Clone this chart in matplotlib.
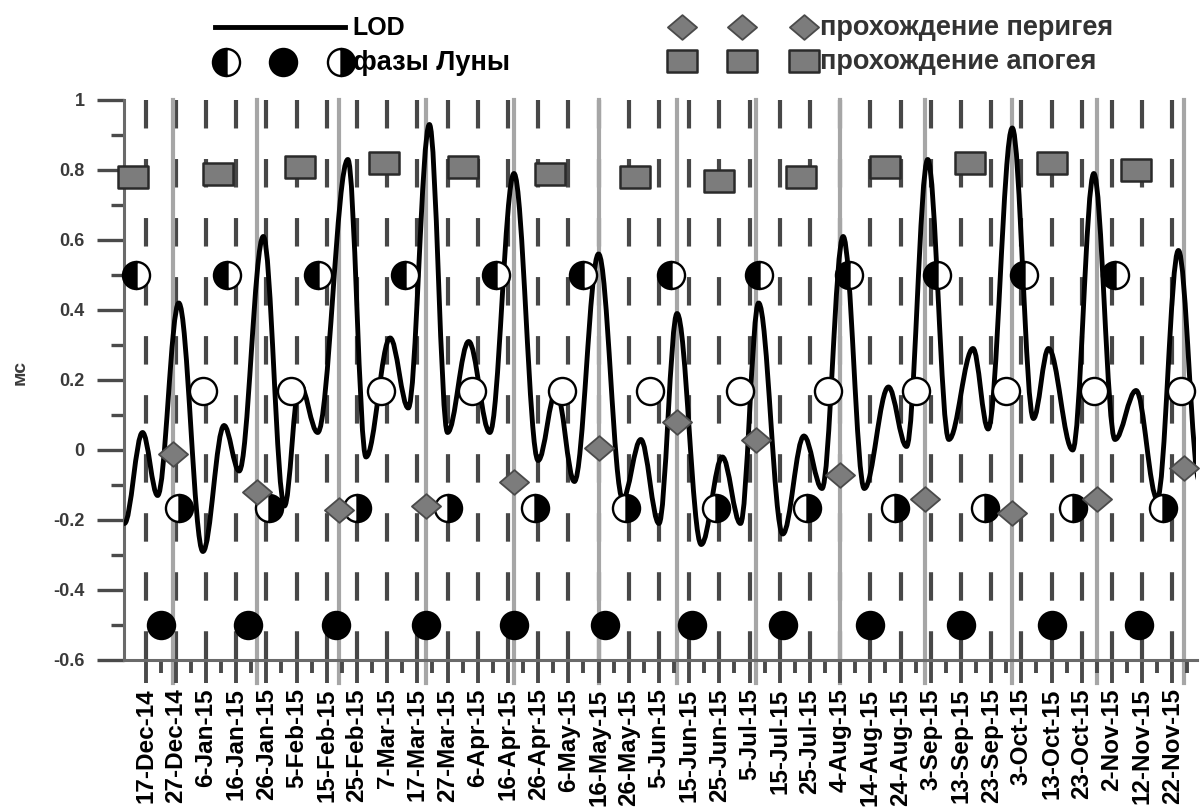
import numpy as np
import pandas as pd
import matplotlib

matplotlib.use("Agg")
import matplotlib.pyplot as plt
import matplotlib.dates as mdates
from matplotlib.path import Path
from matplotlib.patches import PathPatch
from matplotlib.lines import Line2D
from matplotlib.ticker import FixedLocator, FixedFormatter

plt.rcParams["font.family"] = ["Liberation Sans", "DejaVu Sans"]
plt.rcParams["lines.scale_dashes"] = False

# LOD curve, turning points (ms)
lod_dates = [
    "2014-12-10", "2014-12-16", "2014-12-21", "2014-12-28", "2015-01-05",
    "2015-01-12", "2015-01-17", "2015-01-25", "2015-02-01", "2015-02-06",
    "2015-02-12", "2015-02-22", "2015-02-28", "2015-03-08", "2015-03-14",
    "2015-03-21", "2015-03-27", "2015-04-03", "2015-04-10", "2015-04-18",
    "2015-04-26", "2015-05-02", "2015-05-08", "2015-05-16", "2015-05-24",
    "2015-05-30", "2015-06-05", "2015-06-11", "2015-06-19", "2015-06-26",
    "2015-07-02", "2015-07-08", "2015-07-16", "2015-07-23", "2015-07-29",
    "2015-08-05", "2015-08-12", "2015-08-20", "2015-08-26", "2015-09-02",
    "2015-09-09", "2015-09-17", "2015-09-22", "2015-09-30", "2015-10-07",
    "2015-10-12", "2015-10-20", "2015-10-27", "2015-11-03", "2015-11-10",
    "2015-11-17", "2015-11-24", "2015-12-01",
]
lod_values = [
    -0.21, 0.05, -0.13, 0.42, -0.29,
    0.07, -0.06, 0.61, -0.16, 0.19,
    0.05, 0.83, -0.02, 0.32, 0.12,
    0.93, 0.05, 0.31, 0.05, 0.79,
    -0.03, 0.17, -0.09, 0.56, -0.14,
    0.03, -0.21, 0.39, -0.27, -0.02,
    -0.21, 0.42, -0.24, 0.04, -0.11,
    0.61, -0.11, 0.18, 0.01, 0.83,
    0.03, 0.29, 0.06, 0.92, 0.09,
    0.29, 0.00, 0.79, 0.03, 0.17,
    -0.14, 0.57, -0.09,
]

# moon phases
last_quarter_dates = [
    "2014-12-14", "2015-01-13", "2015-02-12", "2015-03-13", "2015-04-12", "2015-05-11",
    "2015-06-09", "2015-07-08", "2015-08-07", "2015-09-05", "2015-10-04", "2015-11-03",
]
new_moon_dates = [
    "2014-12-22", "2015-01-20", "2015-02-18", "2015-03-20", "2015-04-18", "2015-05-18",
    "2015-06-16", "2015-07-16", "2015-08-14", "2015-09-13", "2015-10-13", "2015-11-11",
]
first_quarter_dates = [
    "2014-12-28", "2015-01-27", "2015-02-25", "2015-03-27", "2015-04-25", "2015-05-25",
    "2015-06-24", "2015-07-24", "2015-08-22", "2015-09-21", "2015-10-20", "2015-11-19",
]
full_moon_dates = [
    "2015-01-05", "2015-02-03", "2015-03-05", "2015-04-04", "2015-05-04", "2015-06-02",
    "2015-07-02", "2015-07-31", "2015-08-29", "2015-09-28", "2015-10-27", "2015-11-25",
]
last_quarter_level = 0.5
full_moon_level = 0.17
first_quarter_level = -0.165
new_moon_level = -0.5

# perigee passages
perigee_dates = [
    "2014-12-26", "2015-01-23", "2015-02-19", "2015-03-20", "2015-04-18", "2015-05-16",
    "2015-06-11", "2015-07-07", "2015-08-04", "2015-09-01", "2015-09-30", "2015-10-28",
    "2015-11-26",
]
perigee_values = [
    -0.01, -0.12, -0.17, -0.16, -0.09, 0.005,
    0.08, 0.03, -0.07, -0.14, -0.18, -0.14,
    -0.05,
]

# apogee passages
apogee_dates = [
    "2014-12-13", "2015-01-10", "2015-02-06", "2015-03-06", "2015-04-01", "2015-04-30",
    "2015-05-28", "2015-06-25", "2015-07-22", "2015-08-19", "2015-09-16", "2015-10-13",
    "2015-11-10",
]
apogee_values = [
    0.78, 0.79, 0.81, 0.82, 0.81, 0.79,
    0.78, 0.77, 0.78, 0.81, 0.82, 0.82,
    0.80,
]

x_tick_labels = [
    "17-Dec-14", "27-Dec-14", "6-Jan-15", "16-Jan-15", "26-Jan-15", "5-Feb-15",
    "15-Feb-15", "25-Feb-15", "7-Mar-15", "17-Mar-15", "27-Mar-15", "6-Apr-15",
    "16-Apr-15", "26-Apr-15", "6-May-15", "16-May-15", "26-May-15", "5-Jun-15",
    "15-Jun-15", "25-Jun-15", "5-Jul-15", "15-Jul-15", "25-Jul-15", "4-Aug-15",
    "14-Aug-15", "24-Aug-15", "3-Sep-15", "13-Sep-15", "23-Sep-15", "3-Oct-15",
    "13-Oct-15", "23-Oct-15", "2-Nov-15", "12-Nov-15", "22-Nov-15",
]
y_ticks = [-0.6, -0.4, -0.2, 0.0, 0.2, 0.4, 0.6, 0.8, 1.0]
y_tick_labels = ["-0.6", "-0.4", "-0.2", "0", "0.2", "0.4", "0.6", "0.8", "1"]

W, H = 1201, 811


def num(dates):
    return mdates.date2num(pd.to_datetime(dates))


def smooth_path(xs, ys, k=0.36):
    # cubic segments with flat tangents at each turning point
    verts = [(xs[0], ys[0])]
    codes = [Path.MOVETO]
    for x0, y0, x1, y1 in zip(xs[:-1], ys[:-1], xs[1:], ys[1:]):
        dx = x1 - x0
        verts += [(x0 + k * dx, y0), (x1 - k * dx, y1), (x1, y1)]
        codes += [Path.CURVE4] * 3
    return Path(verts, codes)


def px(x, y):
    return x / W, 1 - y / H


rect_marker = Path([(-1.3, -1), (1.3, -1), (1.3, 1), (-1.3, 1), (-1.3, -1)],
                   [Path.MOVETO, Path.LINETO, Path.LINETO, Path.LINETO, Path.CLOSEPOLY])
diamond_marker = Path([(0, 1), (1.18, 0), (0, -1), (-1.18, 0), (0, 1)],
                      [Path.MOVETO, Path.LINETO, Path.LINETO, Path.LINETO, Path.CLOSEPOLY])

moon_size = 19.5
styles = {
    "last": dict(marker="o", markersize=moon_size, fillstyle="left", markerfacecolor="black",
                 markerfacecoloralt="white", markeredgecolor="black", markeredgewidth=1.7),
    "new": dict(marker="o", markersize=moon_size, markerfacecolor="black",
                markeredgecolor="black", markeredgewidth=1.7),
    "first": dict(marker="o", markersize=moon_size, fillstyle="right", markerfacecolor="black",
                  markerfacecoloralt="white", markeredgecolor="black", markeredgewidth=1.7),
    "full": dict(marker="o", markersize=moon_size, markerfacecolor="white",
                 markeredgecolor="black", markeredgewidth=1.7),
    "perigee": dict(marker=diamond_marker, markersize=21, markerfacecolor="#7c7c7c",
                    markeredgecolor="#4a4a4a", markeredgewidth=1.3),
    "apogee": dict(marker=rect_marker, markersize=21.5, markerfacecolor="#7c7c7c",
                   markeredgecolor="#2a2a2a", markeredgewidth=1.8),
}

fig = plt.figure(figsize=(W / 100, H / 100), dpi=100)
ax = fig.add_axes([124.4 / W, 1 - 660 / H, (1196.5 - 124.4) / W, 560 / H])

x0 = num(["2014-12-10"])[0]
x1 = num(["2015-11-30"])[0]
ax.set_xlim(x0, x1)
ax.set_ylim(-0.6, 1.0)

tick_pos = num(list(pd.date_range("2014-12-17", periods=len(x_tick_labels), freq="10D")))
minor_pos = tick_pos + 5

# dashed verticals at each date tick
for t in tick_pos:
    ax.plot([t, t], [1.0, -0.6], color="#474747", lw=3.0,
            linestyle=(0, (20.5, 22.0)), zorder=1, solid_capstyle="butt")

# perigee drop lines
for d in num(perigee_dates):
    ax.plot([d, d], [1.0, -0.665], color="#a6a6a6", lw=3.0, zorder=1.5, clip_on=False)

lod_path = smooth_path(num(lod_dates), lod_values)
ax.add_patch(PathPatch(lod_path, fill=False, edgecolor="black", lw=3.5, zorder=3,
                       capstyle="round", joinstyle="round"))

ax.plot(num(last_quarter_dates), [last_quarter_level] * len(last_quarter_dates),
        linestyle="none", zorder=4, clip_on=False, **styles["last"])
ax.plot(num(full_moon_dates), [full_moon_level] * len(full_moon_dates),
        linestyle="none", zorder=4, clip_on=False, **styles["full"])
ax.plot(num(first_quarter_dates), [first_quarter_level] * len(first_quarter_dates),
        linestyle="none", zorder=4, clip_on=False, **styles["first"])
ax.plot(num(new_moon_dates), [new_moon_level] * len(new_moon_dates),
        linestyle="none", zorder=4, clip_on=False, **styles["new"])
ax.plot(num(perigee_dates), perigee_values, linestyle="none", zorder=5, clip_on=False,
        **styles["perigee"])
ax.plot(num(apogee_dates), apogee_values, linestyle="none", zorder=5, clip_on=False,
        **styles["apogee"])

# axes
for side in ("top", "right"):
    ax.spines[side].set_visible(False)
for side in ("left", "bottom"):
    ax.spines[side].set_color("#6a6a6a")
    ax.spines[side].set_linewidth(2.2)

ax.xaxis.set_major_locator(FixedLocator(tick_pos))
ax.xaxis.set_major_formatter(FixedFormatter(x_tick_labels))
ax.xaxis.set_minor_locator(FixedLocator(minor_pos))
ax.tick_params(axis="x", which="major", direction="out", length=16.5, width=2.8,
               color="#4a4a4a", pad=4, labelsize=17.5, labelrotation=90)
ax.tick_params(axis="x", which="minor", direction="out", length=9.5, width=2.8,
               color="#4a4a4a")
for lbl in ax.get_xticklabels():
    lbl.set_fontweight("bold")

ax.yaxis.set_major_locator(FixedLocator(y_ticks))
ax.yaxis.set_major_formatter(FixedFormatter(y_tick_labels))
ax.yaxis.set_minor_locator(FixedLocator(np.arange(-0.5, 1.0, 0.2)))
ax.tick_params(axis="y", which="major", direction="out", length=19.5, width=2.4,
               color="#4a4a4a", pad=9, labelsize=13, labelcolor="#3a3a3a")
ax.tick_params(axis="y", which="minor", direction="out", length=9.5, width=2.4,
               color="#4a4a4a")
for lbl in ax.get_yticklabels():
    lbl.set_fontweight("bold")

fig.text(*px(20, 372), "мс", rotation=90, ha="center", va="center", fontsize=14,
         fontweight="bold", color="#3a3a3a")

# legend, left block
fig.add_artist(Line2D([215 / W, 345 / W], [1 - 27 / H] * 2, color="black", lw=3.5,
                      transform=fig.transFigure))
fig.text(*px(352, 28), "LOD", ha="left", va="center", fontsize=18, fontweight="bold")
for xp, key in zip([226, 283, 341], ["last", "new", "first"]):
    fig.add_artist(Line2D([xp / W], [1 - 62 / H], transform=fig.transFigure,
                          linestyle="none", **styles[key]))
fig.text(*px(353, 63), "фазы Луны", ha="left", va="center", fontsize=19.5, fontweight="bold")

# legend, right block
for xp in [682, 742, 804]:
    fig.add_artist(Line2D([xp / W], [1 - 27 / H], transform=fig.transFigure,
                          linestyle="none", **styles["perigee"]))
    fig.add_artist(Line2D([xp / W], [1 - 61 / H], transform=fig.transFigure,
                          linestyle="none", **styles["apogee"]))
fig.text(*px(820, 28), "прохождение перигея", ha="left", va="center", fontsize=19.5,
         fontweight="bold", color="#333333")
fig.text(*px(820, 62), "прохождение апогея", ha="left", va="center", fontsize=19.5,
         fontweight="bold", color="#333333")

fig.savefig("out.png", dpi=100)
